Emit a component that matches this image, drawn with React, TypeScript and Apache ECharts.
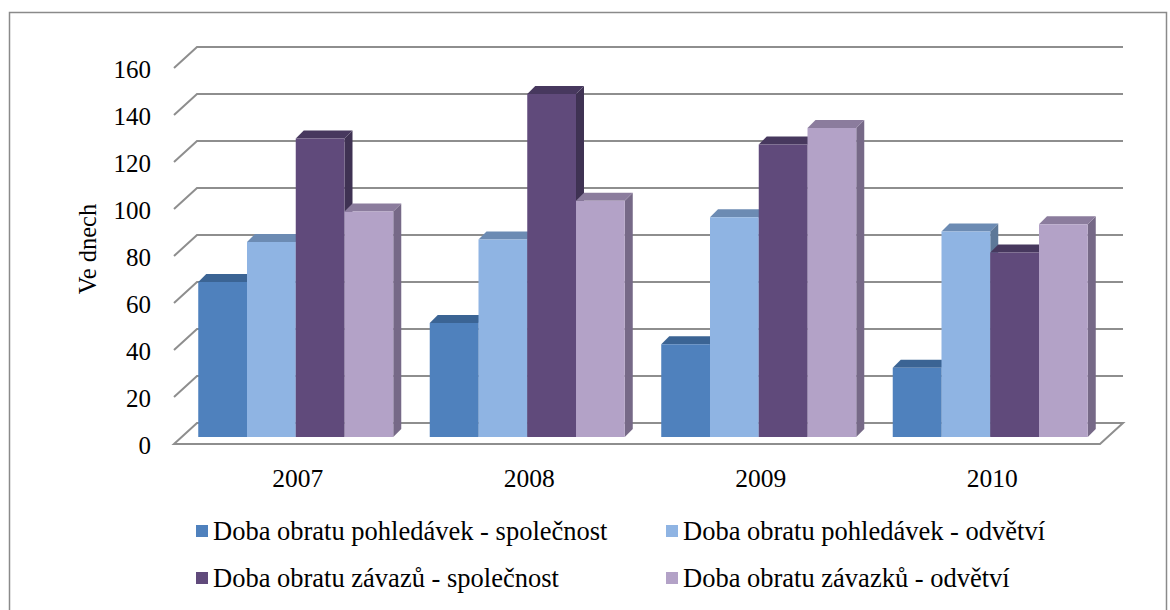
import React, { useEffect, useRef } from "react";
import * as echarts from "echarts";

const categories = ["2007", "2008", "2009", "2010"];
const seriesNames = [
  "Doba obratu pohledávek - společnost",
  "Doba obratu pohledávek - odvětví",
  "Doba obratu závazů - společnost",
  "Doba obratu závazků - odvětví",
];
const pohledavkySpolecnost = [66, 48.5, 39.5, 29.5];
const pohledavkyOdvetvi = [83, 84, 93.5, 87.5];
const zavazySpolecnost = [127, 146, 124.5, 78.5];
const zavazkyOdvetvi = [96, 100.5, 131.5, 90.5];
const yTicks = [0, 20, 40, 60, 80, 100, 120, 140, 160];

const seriesValues = [pohledavkySpolecnost, pohledavkyOdvetvi, zavazySpolecnost, zavazkyOdvetvi];
const frontColors = ["#4F81BD", "#8FB4E3", "#604A7B", "#B3A2C7"];
const topColors = ["#3B6494", "#6C8BB3", "#47385E", "#8B7C9D"];
const sideColors = ["#34587F", "#5D7898", "#3F3253", "#766987"];

const FONT = "Liberation Serif";
const D = 8;

function makeBarRender(si: number) {
  return (params: any, api: any) => {
    const ci = api.value(0);
    const v = api.value(1);
    const base = api.coord([ci, 0]);
    const top = api.coord([ci, v]);
    const band = api.size([1, 0])[0];
    const bw = band * 0.2106;
    const groupW = bw * 4;
    const x0 = base[0] - groupW / 2 - 2 + si * bw;
    const x1 = x0 + bw;
    const yb = base[1];
    const yt = top[1];
    return {
      type: "group",
      children: [
        {
          type: "polygon",
          shape: { points: [[x1, yb], [x1 + D, yb - D], [x1 + D, yt - D], [x1, yt]] },
          style: { fill: sideColors[si] },
        },
        {
          type: "polygon",
          shape: { points: [[x0, yt], [x1, yt], [x1 + D, yt - D], [x0 + D, yt - D]] },
          style: { fill: topColors[si] },
        },
        {
          type: "rect",
          shape: { x: x0, y: yt, width: bw, height: yb - yt },
          style: { fill: frontColors[si] },
        },
      ],
    };
  };
}

function gridRender(params: any, api: any) {
  const v = api.value(1);
  const cs = params.coordSys;
  const L = cs.x;
  const R = cs.x + cs.width;
  const y = api.coord([0, v])[1];
  const label = {
    type: "text",
    x: L - 31,
    y: y + 8,
    style: {
      text: String(v),
      fontFamily: FONT,
      fontSize: 25,
      fill: "#000",
      align: "right",
      verticalAlign: "middle",
    },
  };
  const line =
    v === 0
      ? {
          type: "polygon",
          shape: { points: [[L - 8, y + 7], [L + 15, y - 14], [R + 15, y - 14], [R - 8, y + 7]] },
          style: { stroke: "#8E8E8E", lineWidth: 2, fill: "#ffffff" },
        }
      : {
          type: "polyline",
          shape: { points: [[L - 8, y + 7], [L + 15, y - 14], [R + 15, y - 14]] },
          style: { stroke: "#8E8E8E", lineWidth: 2, fill: null },
        };
  return { type: "group", children: [line, label] };
}

export default function App() {
  const ref = useRef<HTMLDivElement>(null);
  useEffect(() => {
    if (!ref.current) return;
    const chart = echarts.init(ref.current, null, { renderer: "svg" });
    const barSeries = seriesValues.map((vals, si) => ({
      name: seriesNames[si],
      type: "custom",
      renderItem: makeBarRender(si),
      itemStyle: { color: frontColors[si] },
      encode: { x: 0, y: 1 },
      data: vals.map((v, i) => [i, v]),
      clip: false,
      z: 3,
    }));
    const legendText = { fontFamily: FONT, fontSize: 26.5, color: "#000", lineHeight: 30 };
    chart.setOption({
      animation: false,
      backgroundColor: "#ffffff",
      textStyle: { fontFamily: FONT },
      graphic: [
        {
          type: "rect",
          shape: { x: 9.5, y: 12.5, width: 1157, height: 620 },
          style: { stroke: "#8A8A8A", lineWidth: 1.5, fill: null },
          silent: true,
        },
      ],
      grid: { left: 182, right: 62, top: 61, bottom: 173 },
      xAxis: {
        type: "category",
        data: categories,
        axisLine: { show: false },
        axisTick: { show: false },
        axisLabel: { fontFamily: FONT, fontSize: 25.5, color: "#000", margin: 28 },
      },
      yAxis: {
        type: "value",
        min: 0,
        max: 160,
        interval: 20,
        name: "Ve dnech",
        nameLocation: "middle",
        nameGap: 82,
        nameRotate: 90,
        nameTextStyle: { fontFamily: FONT, fontSize: 24.5, color: "#000" },
        axisLine: { show: false },
        axisTick: { show: false },
        splitLine: { show: false },
        axisLabel: { show: false },
      },
      legend: [
        {
          orient: "vertical",
          left: 191,
          top: 511,
          icon: "rect",
          itemWidth: 12,
          itemHeight: 12,
          itemGap: 17,
          textStyle: legendText,
          data: [seriesNames[0], seriesNames[2]],
        },
        {
          orient: "vertical",
          left: 661,
          top: 511,
          icon: "rect",
          itemWidth: 12,
          itemHeight: 12,
          itemGap: 17,
          textStyle: legendText,
          data: [seriesNames[1], seriesNames[3]],
        },
      ],
      series: [
        {
          name: "grid",
          type: "custom",
          renderItem: gridRender,
          encode: { x: 0, y: 1 },
          data: yTicks.map((t) => [0, t]),
          silent: true,
          clip: false,
          z: 1,
        },
        ...barSeries,
      ],
    });
    return () => chart.dispose();
  }, []);
  return (
    <div
      ref={ref}
      style={{ position: "absolute", left: 0, top: 0, width: 1170, height: 610 }}
    />
  );
}
